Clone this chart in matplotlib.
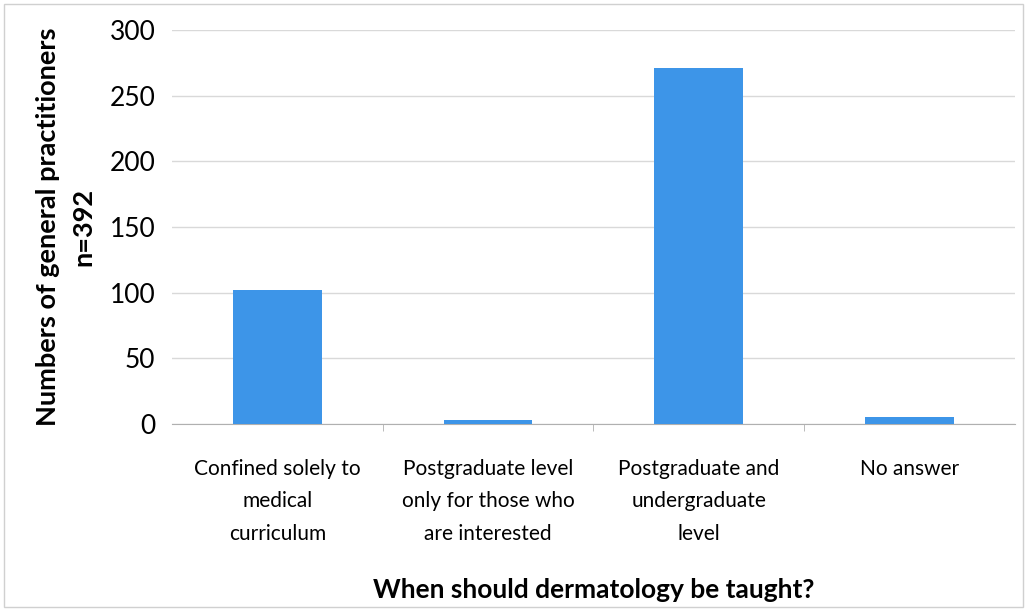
import matplotlib.pyplot as plt
from matplotlib.patches import Rectangle

categories = ["Confined solely to\nmedical\ncurriculum",
              "Postgraduate level\nonly for those who\nare interested",
              "Postgraduate and\nundergraduate\nlevel",
              "No answer"]
counts = [102, 3, 271, 5]
yticks = [0, 50, 100, 150, 200, 250, 300]

plt.rcParams['font.family'] = ['Lato', 'DejaVu Sans']

fig = plt.figure(figsize=(10.27, 6.09), dpi=100)
ax = fig.add_axes([0.1675, 0.304, 0.8205, 0.647])

x = range(len(categories))
ax.bar(x, counts, width=0.42, color='#3d95e8', zorder=3)

ax.set_xlim(-0.5, len(categories) - 0.5)
ax.set_ylim(0, 300)
ax.set_yticks(yticks)
ax.yaxis.grid(True, color='#d9d9d9', linewidth=1, zorder=0)
for s in ['top', 'right', 'left']:
    ax.spines[s].set_visible(False)
ax.spines['bottom'].set_color('#b0b0b0')

ax.set_xticks(list(x))
ax.set_xticklabels(categories, fontsize=15, linespacing=1.8)
ax.set_xticks([i + 0.5 for i in range(len(categories) - 1)], minor=True)
ax.tick_params(axis='x', which='major', length=0, pad=25)
ax.tick_params(axis='x', which='minor', length=5, color='#b0b0b0')
ax.tick_params(axis='y', length=0, labelsize=19, pad=12)

ax.set_ylabel("Numbers of general practitioners\nn=392", fontsize=19.5,
              fontweight='bold', linespacing=1.6, labelpad=10)
ax.set_xlabel("When should dermatology be taught?", fontsize=19,
              fontweight='bold', labelpad=24)

fig.patches.append(Rectangle((0.004, 0.004), 0.992, 0.99, transform=fig.transFigure,
                             fill=False, edgecolor='#d0d0d0', linewidth=1))

plt.savefig("out.png", dpi=100)
